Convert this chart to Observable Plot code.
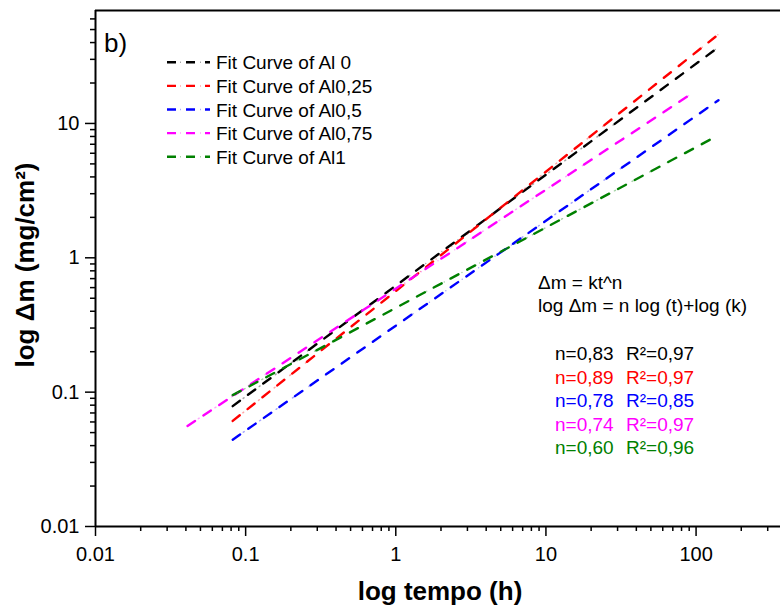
<!DOCTYPE html>
<html><head><meta charset="utf-8">
<script src="https://cdn.jsdelivr.net/npm/d3@7"></script>
<script src="https://cdn.jsdelivr.net/npm/@observablehq/plot@0.6"></script>
<style>body{margin:0;background:#fff}svg{display:block}</style>
</head><body><div id="chart"></div>
<script>
// ---- data ----
const series = ["Al 0", "Al0,25", "Al0,5", "Al0,75", "Al1"];
const colors = ["#000000", "#ff0000", "#0000ff", "#ff00ff", "#008000"];
const tStart = [0.082, 0.082, 0.082, 0.041, 0.082];
const mStart = [0.0787, 0.0611, 0.0443, 0.0561, 0.095];
const tEnd   = [145, 146, 141, 97.5, 137];
const mEnd   = [37.8, 47.5, 14.9, 17.2, 8.04];
const nValues = ["0,83", "0,89", "0,78", "0,74", "0,60"];
const r2Values = ["0,97", "0,97", "0,85", "0,97", "0,96"];
const xMajorTicks = [0.01, 0.1, 1, 10, 100];
const yMajorTicks = [0.01, 0.1, 1, 10];
const xDomain = [0.01, 365];
const yDomain = [0.01, 69.3];

const rows = [];
series.forEach((s, i) => {
  rows.push({series: s, color: colors[i], t: tStart[i], m: mStart[i]});
  rows.push({series: s, color: colors[i], t: tEnd[i], m: mEnd[i]});
});

function minorTicks(domain) {
  const out = [];
  for (let e = -3; e <= 3; e++) for (let k = 2; k <= 9; k++) {
    const v = k * Math.pow(10, e);
    if (v > domain[0] && v < domain[1]) out.push(+v.toPrecision(3));
  }
  return out;
}
const xMinor = minorTicks(xDomain);
const yMinor = minorTicks(yDomain);
const fmt = d => String(d);
const dashMain = "9,10";        // dashes
const dashDot = "0,13,1,6";     // faint dot in the middle of each gap

const svg = Plot.plot({
  width: 780, height: 612,
  marginLeft: 95, marginRight: 0, marginTop: 10, marginBottom: 86,
  style: {fontFamily: "'Liberation Sans', Arial, sans-serif", fontSize: "20px", color: "#000", background: "#fff"},
  x: {type: "log", domain: xDomain},
  y: {type: "log", domain: yDomain},
  marks: [
    Plot.axisX({ticks: xMinor, tickSize: 5, tickFormat: () => "", strokeWidth: 1.5, label: null}),
    Plot.axisY({ticks: yMinor, tickSize: 5, tickFormat: () => "", strokeWidth: 1.5, label: null}),
    Plot.axisX({ticks: xMajorTicks, tickSize: 10, tickPadding: 10, tickFormat: fmt, fontSize: 20, strokeWidth: 1.5, label: null}),
    Plot.axisY({ticks: yMajorTicks, tickSize: 10, tickPadding: 6, tickFormat: fmt, fontSize: 20, strokeWidth: 1.5, label: null}),
    Plot.ruleX([xDomain[0]], {strokeWidth: 2}),
    Plot.ruleY([yDomain[0]], {strokeWidth: 2}),
    Plot.ruleY([yDomain[1]], {strokeWidth: 2}),
    Plot.line(rows, {x: "t", y: "m", z: "series", stroke: "color", strokeWidth: 2.4, strokeDasharray: dashMain}),
    Plot.line(rows, {x: "t", y: "m", z: "series", stroke: "color", strokeWidth: 1.5, strokeOpacity: 0.35, strokeDasharray: dashDot})
  ]
});

const g = d3.select(svg).append("g")
  .attr("font-family", "'Liberation Sans', Arial, sans-serif")
  .attr("text-anchor", "start").attr("fill", "#000");
// panel label
g.append("text").attr("x", 104).attr("y", 52).attr("font-size", 26).text("b)");
// legend
series.forEach((s, i) => {
  const cy = 62.3 + i * 23.6;
  g.append("line").attr("x1", 167).attr("x2", 210).attr("y1", cy).attr("y2", cy)
    .attr("stroke", colors[i]).attr("stroke-width", 2.4).attr("stroke-dasharray", dashMain);
  g.append("line").attr("x1", 167).attr("x2", 210).attr("y1", cy).attr("y2", cy)
    .attr("stroke", colors[i]).attr("stroke-width", 1.5).attr("stroke-opacity", 0.35).attr("stroke-dasharray", dashDot);
  g.append("text").attr("x", 216).attr("y", cy + 7).attr("font-size", 19).text("Fit Curve of " + s);
});
// equations
g.append("text").attr("x", 538).attr("y", 289).attr("font-size", 19).text("\u0394m = kt^n");
g.append("text").attr("x", 538).attr("y", 312).attr("font-size", 19).text("log \u0394m = n log (t)+log (k)");
series.forEach((s, i) => {
  const by = 360 + i * 23.5;
  g.append("text").attr("x", 555).attr("y", by).attr("font-size", 19).attr("fill", colors[i]).text("n=" + nValues[i]);
  g.append("text").attr("x", 626).attr("y", by).attr("font-size", 19).attr("fill", colors[i]).text("R\u00b2=" + r2Values[i]);
});
// axis titles
g.append("text").attr("x", 440).attr("y", 600).attr("text-anchor", "middle")
  .attr("font-size", 26).attr("font-weight", "bold").text("log tempo (h)");
g.append("text").attr("transform", "translate(34,265) rotate(-90)").attr("text-anchor", "middle")
  .attr("font-size", 26).attr("font-weight", "bold").text("log \u0394m (mg/cm\u00b2)");

document.getElementById("chart").appendChild(svg);
</script>
</body></html>
